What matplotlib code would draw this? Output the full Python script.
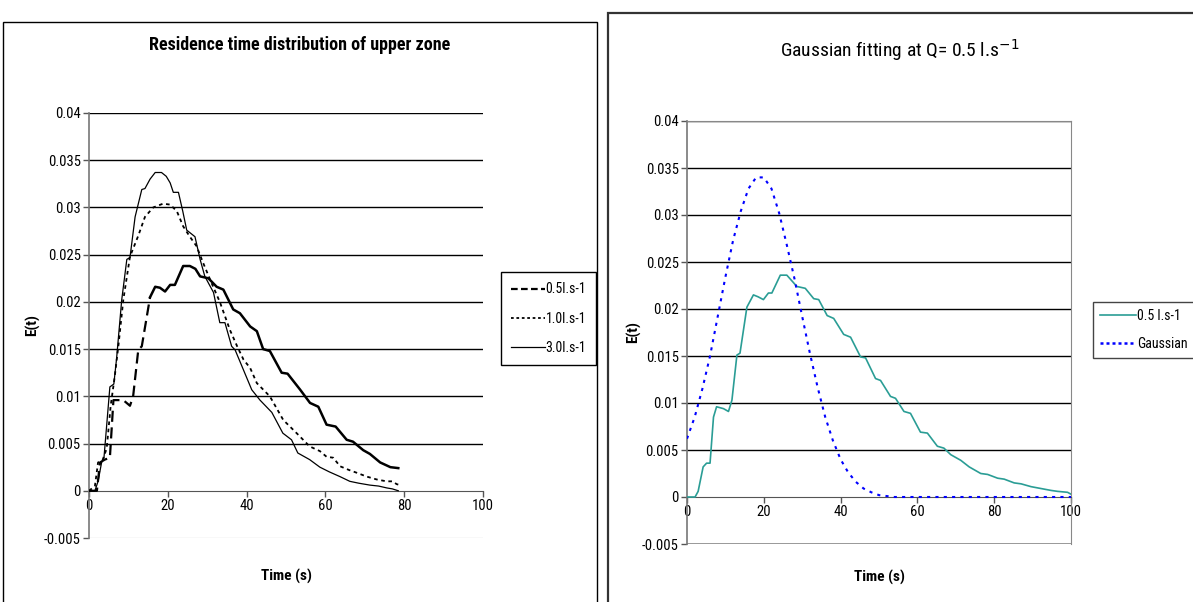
import numpy as np
import matplotlib
matplotlib.use("Agg")
import matplotlib.pyplot as plt
from matplotlib.lines import Line2D
from matplotlib.patches import Rectangle

plt.rcParams["font.family"] = ["Liberation Sans Narrow", "Roboto Condensed", "Liberation Sans", "DejaVu Sans"]

# ---- left panel: residence time distribution of upper zone ----
t_05 = [0, 2.0, 2.8, 4.0, 5.3, 6.2, 8.7, 10.4, 11.2, 12.5, 13.4, 15.5, 16.8, 18.0, 19.3,
        20.6, 21.8, 23.9, 25.6, 27.0, 28.2, 30.3, 32.4, 34.1, 36.6, 38.3, 40.9, 42.6,
        44.2, 45.9, 48.9, 50.4, 53.6, 56.1, 58.2, 60.3, 62.6, 65.4, 67.0, 69.6, 71.3,
        73.9, 76.5, 78.5]
e_05 = [0, 0, 0.0030, 0.0033, 0.0035, 0.0096, 0.0096, 0.0090, 0.0100, 0.0149, 0.0153,
        0.0205, 0.0216, 0.0215, 0.0211, 0.0218, 0.0218, 0.0238, 0.0238, 0.0235, 0.0227,
        0.0225, 0.0216, 0.0213, 0.0192, 0.0188, 0.0174, 0.0169, 0.0150, 0.0148, 0.0125,
        0.0124, 0.0107, 0.0093, 0.0089, 0.0070, 0.0068, 0.0054, 0.0052, 0.0043, 0.0039,
        0.0030, 0.0025, 0.0024]

t_10 = [0, 1.5, 2.3, 3.5, 4.5, 5.5, 6.5, 7.5, 8.7, 10.4, 12.5, 14.2, 16.3, 18.8, 20.6,
        22.3, 23.9, 25.6, 27.3, 29.0, 31.1, 33.2, 35.8, 37.6, 39.2, 40.9, 42.6, 45.9,
        49.3, 51.0, 52.7, 56.0, 58.6, 60.3, 62.0, 63.7, 66.0, 68.0, 70.5, 73.0, 75.5,
        77.0, 78.1, 79.0]
e_10 = [0, 0.0005, 0.0030, 0.0033, 0.0045, 0.0090, 0.0120, 0.0155, 0.0202, 0.0248,
        0.0270, 0.0290, 0.0300, 0.0304, 0.0303, 0.0296, 0.0280, 0.0269, 0.0259, 0.0241,
        0.0220, 0.0200, 0.0170, 0.0153, 0.0139, 0.0130, 0.0114, 0.0100, 0.0075, 0.0068,
        0.0061, 0.0047, 0.0042, 0.0036, 0.0035, 0.0026, 0.0022, 0.0019, 0.0015, 0.0012,
        0.0010, 0.0010, 0.0007, 0.0006]

t_30 = [0, 1.5, 2.3, 3.2, 3.8, 5.3, 6.3, 7.0, 8.3, 9.6, 10.4, 11.7, 13.4, 14.2, 15.5,
        16.8, 18.4, 19.6, 20.6, 21.4, 22.7, 23.8, 24.8, 26.9, 28.2, 29.4, 31.6, 33.2,
        34.5, 36.2, 37.1, 39.2, 41.3, 43.4, 46.4, 49.2, 51.4, 53.0, 56.0, 58.6, 61.0,
        63.7, 66.2, 68.5, 71.3, 73.5, 75.6, 77.0, 78.5]
e_30 = [0, 0, 0.0010, 0.0030, 0.0035, 0.0110, 0.0113, 0.0140, 0.0202, 0.0245, 0.0247,
        0.0290, 0.0319, 0.0320, 0.0330, 0.0337, 0.0337, 0.0333, 0.0326, 0.0316, 0.0316,
        0.0296, 0.0276, 0.0269, 0.0245, 0.0227, 0.0210, 0.0178, 0.0178, 0.0153, 0.0149,
        0.0128, 0.0107, 0.0096, 0.0083, 0.0061, 0.0054, 0.0040, 0.0033, 0.0025, 0.0020,
        0.0015, 0.0010, 0.0008, 0.0006, 0.0005, 0.0003, 0.0002, 0.0]

# ---- right panel: Gaussian fitting at Q = 0.5 l/s ----
t_meas = [0, 2.1, 2.9, 4.2, 5.1, 6.0, 6.9, 7.7, 9.5, 10.8, 11.7, 13.0, 13.8, 15.6, 17.3,
          18.5, 19.9, 21.2, 22.1, 24.3, 26.0, 28.6, 30.8, 33.0, 34.3, 36.5, 38.2, 40.8,
          42.6, 45.2, 46.5, 49.1, 50.4, 53.0, 54.3, 56.5, 58.2, 60.8, 62.6, 65.2, 66.9,
          68.7, 71.3, 73.5, 76.5, 78.3, 80.9, 82.6, 85.2, 87.0, 89.6, 92.2, 94.8, 96.5,
          99.1, 100]
e_meas = [0, 0, 0.0006, 0.0032, 0.0036, 0.0036, 0.0085, 0.0096, 0.0094, 0.0091, 0.0103,
          0.0151, 0.0153, 0.0202, 0.0215, 0.0213, 0.0210, 0.0217, 0.0217, 0.0236, 0.0236,
          0.0224, 0.0222, 0.0211, 0.0210, 0.0193, 0.0190, 0.0173, 0.0170, 0.0149, 0.0148,
          0.0126, 0.0124, 0.0107, 0.0105, 0.0091, 0.0089, 0.0069, 0.0068, 0.0054, 0.0052,
          0.0045, 0.0039, 0.0032, 0.0025, 0.0024, 0.0020, 0.0019, 0.0015, 0.0014, 0.0011,
          0.0009, 0.0007, 0.0006, 0.0005, 0.0003]

t_gauss = [0, 2, 4, 6, 8, 10, 12, 14, 16, 18, 20, 22, 24, 26, 28, 30, 32, 34, 36, 38, 40,
           42, 44, 46, 48, 50, 52, 54, 60, 70, 80, 90, 100]
e_gauss = [0.0062, 0.0085, 0.0115, 0.0150, 0.0192, 0.0234, 0.0273, 0.0304, 0.0328,
           0.0340, 0.0340, 0.0328, 0.0302, 0.0268, 0.0232, 0.0192, 0.0153, 0.0117,
           0.0085, 0.0060, 0.0040, 0.0026, 0.0016, 0.0009, 0.0005, 0.0002, 0.0001, 0,
           0, 0, 0, 0, 0]

Y_TICKS = [-0.005, 0, 0.005, 0.01, 0.015, 0.02, 0.025, 0.03, 0.035, 0.04]
Y_LABELS = ["-0.005", "0", "0.005", "0.01", "0.015", "0.02", "0.025", "0.03", "0.035", "0.04"]
X_TICKS = [0, 20, 40, 60, 80, 100]

W, H = 1193, 602
fig = plt.figure(figsize=(W / 100, H / 100), dpi=100)


def px_axes(x0, y0, x1, y1):
    return fig.add_axes([x0 / W, 1 - y1 / H, (x1 - x0) / W, (y1 - y0) / H])


def style_axes(ax, border, ylab_x, xlab_y):
    ax.set_xlim(0, 100)
    ax.set_ylim(-0.005, 0.04)
    ax.set_xticks(X_TICKS)
    ax.set_yticks(Y_TICKS)
    ax.set_yticklabels(Y_LABELS)
    for y in Y_TICKS[2:]:
        ax.axhline(y, color="black", lw=1.0, zorder=1)
    ax.spines["bottom"].set_position(("data", 0))
    ax.spines["bottom"].set_color("#555555")
    ax.spines["left"].set_color("#777777")
    ax.spines["left"].set_linewidth(1.2)
    for s in ("top", "right"):
        ax.spines[s].set_visible(border)
        ax.spines[s].set_color("#888888")
    ax.tick_params(axis="both", direction="out", length=4, width=1, color="#555555",
                   labelsize=10.5, pad=2)
    ax.set_xlabel("Time (s)", fontsize=11, fontweight="bold")
    ax.set_ylabel("E(t)", fontsize=11, fontweight="bold")
    ax.yaxis.set_label_coords(ylab_x, 0.5)
    ax.xaxis.set_label_coords(0.5, xlab_y)


# outer chart frames
fig.add_artist(Rectangle((3 / W, -0.1), 594 / W, 1.1 - 22 / H, transform=fig.transFigure,
                         fill=False, edgecolor="black", lw=1.0))
fig.add_artist(Rectangle((608 / W, -0.1), 600 / W, 1.1 - 13 / H, transform=fig.transFigure,
                         fill=False, edgecolor="#333333", lw=1.6))

# left chart
ax1 = px_axes(89, 113, 483, 538)
style_axes(ax1, False, -0.125, -0.072)
ax1.plot(t_30, e_30, color="black", lw=0.9, zorder=3)
ax1.plot(t_10, e_10, color="black", lw=1.3, ls=(0, (2, 2)), zorder=3)
split = 12
ax1.plot(t_05[:split], e_05[:split], color="black", lw=1.6, ls=(0, (5, 2.5)), zorder=3)
ax1.plot(t_05[split - 1:], e_05[split - 1:], color="black", lw=1.8, zorder=3)
ax1.axhline(-0.005, color="#dddddd", lw=1.0)
fig.text(300 / W, 1 - 45 / H, "Residence time distribution of upper zone",
         ha="center", va="center", fontsize=13, fontweight="bold")
h1 = [Line2D([], [], color="black", lw=1.6, ls=(0, (3, 1.5))),
      Line2D([], [], color="black", lw=1.3, ls=(0, (1.5, 1.5))),
      Line2D([], [], color="black", lw=0.9)]
fig.legend(h1, ["0.5l.s-1", "1.0l.s-1", "3.0l.s-1"], loc="upper left",
           bbox_to_anchor=(501 / W, 1 - 272 / H), borderaxespad=0, fontsize=10,
           frameon=True, fancybox=False, edgecolor="black", framealpha=1,
           handlelength=2.4, handletextpad=0.05, labelspacing=1.1, borderpad=0.75)

# right chart
ax2 = px_axes(687, 121, 1071, 544)
style_axes(ax2, True, -0.119, -0.062)
ax2.axhline(-0.005, color="#888888", lw=1.2)
ax2.plot(t_meas, e_meas, color="#2a9d95", lw=1.2, zorder=3)
ax2.plot(t_gauss, e_gauss, color="#0000ff", lw=1.5, ls=(0, (1.5, 2.5)), zorder=3)
fig.text(900 / W, 1 - 50 / H, "Gaussian fitting at Q= 0.5 l.s$^{-1}$",
         ha="center", va="center", fontsize=14)
h2 = [Line2D([], [], color="#2a9d95", lw=1.2),
      Line2D([], [], color="#0000ff", lw=1.8, ls=(0, (1.2, 1.2)))]
fig.legend(h2, ["0.5 l.s-1", "Gaussian"], loc="upper left",
           bbox_to_anchor=(1093 / W, 1 - 302 / H), borderaxespad=0, fontsize=10,
           frameon=True, fancybox=False, edgecolor="#444444", framealpha=1,
           handlelength=2.6, handletextpad=0.05, labelspacing=1.0, borderpad=0.5)

fig.savefig("out.png", dpi=100)
